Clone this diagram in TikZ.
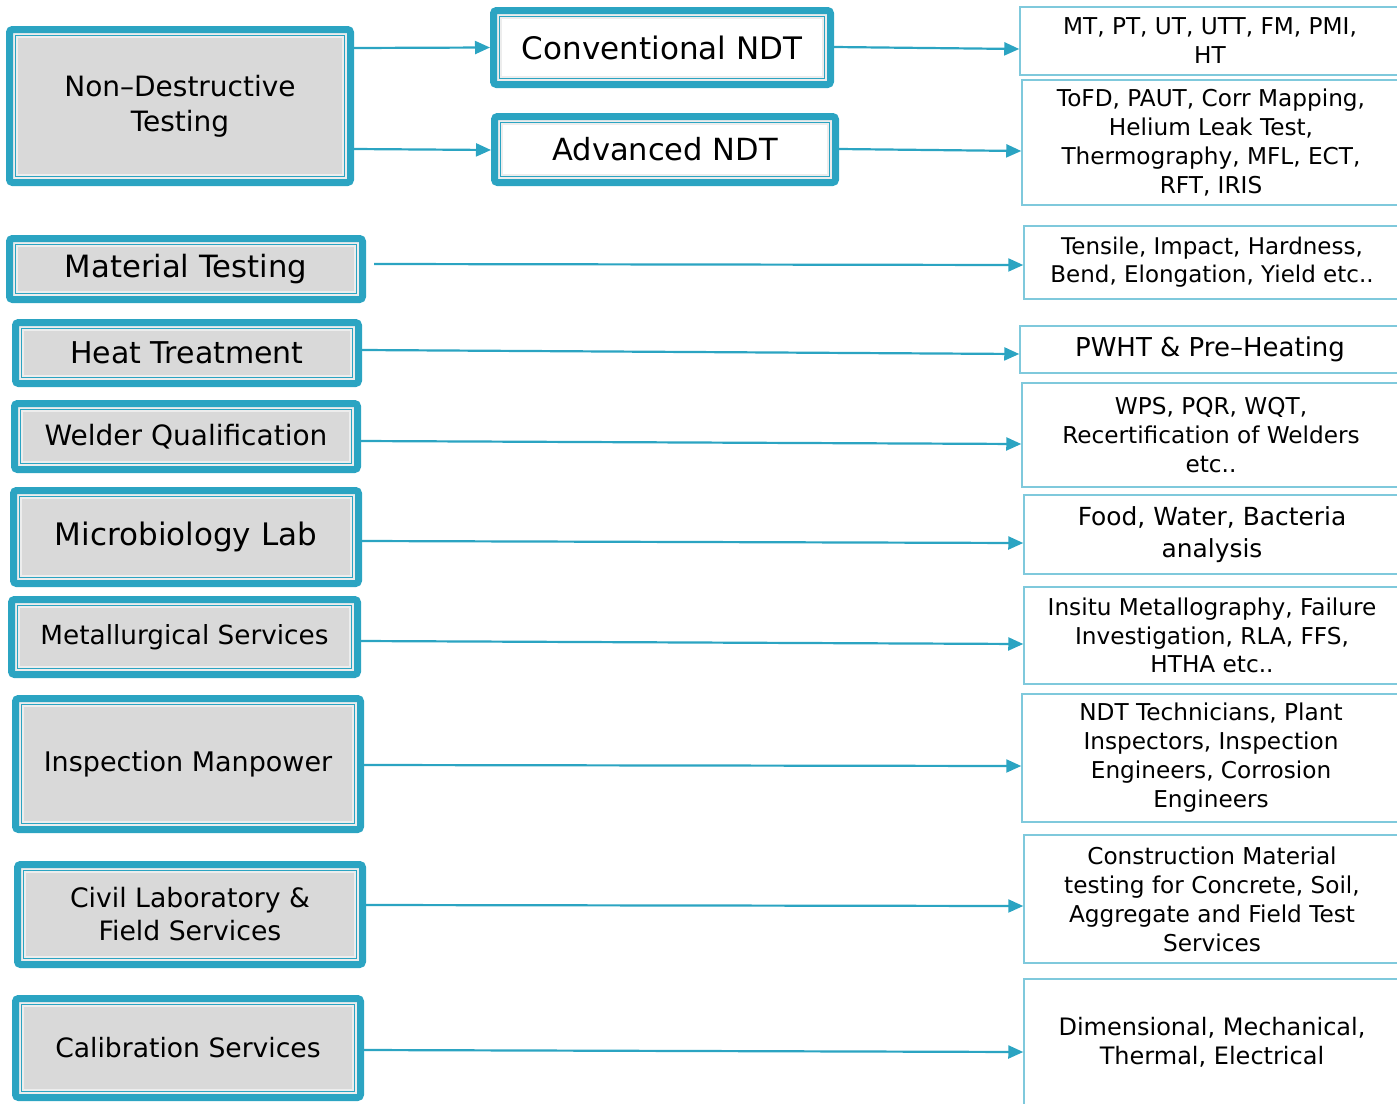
\documentclass[tikz,border=0pt]{standalone}
\usepackage{fontspec}
\setmainfont{DejaVu Sans}
\usepackage{xcolor}
\usepackage{tikz}
\usetikzlibrary{arrows.meta}
\usetikzlibrary{positioning}
\usetikzlibrary{calc}

\definecolor{ndtblue}{HTML}{2BA4C2}
\definecolor{infoblue}{HTML}{7FC9DC}
\definecolor{boxgray}{HTML}{D9D9D9}

\begin{document}
\begin{tikzpicture}
[x=1pt, y=-1pt,
 man/.style={rectangle, rounded corners=3pt, draw=ndtblue, line width=7pt, fill=boxgray, align=center, inner sep=0pt,
   path picture={\draw[sharp corners, draw=white!93!black, line width=1.4pt, double=ndtblue, double distance=1.8pt]
     ([shift={(6pt,6pt)}]path picture bounding box.south west) rectangle ([shift={(-6pt,-6pt)}]path picture bounding box.north east);}},
 man1/.style={man, fill=white},
 info/.style={rectangle, draw=infoblue, line width=1.5pt, fill=white, align=center, inner sep=0pt, font=\fontsize{23.2}{29}\selectfont},
 link/.style={draw=ndtblue, line width=2.2pt, -{Triangle[length=15pt,width=13pt]}}]
\useasboundingbox (0,0) rectangle (1397,1103);

% left column
\node[man, minimum width=341pt, minimum height=153pt, font=\fontsize{28}{35}\selectfont] (ndt) at (180,106) {Non–Destructive\\Testing};
\node[man1, minimum width=337pt, minimum height=74pt, font=\fontsize{31}{37}\selectfont] (conv) at (662,47.5) {Conventional NDT};
\node[man1, minimum width=341pt, minimum height=66pt, font=\fontsize{30.5}{37}\selectfont] (adv) at (665,149.5) {Advanced NDT};
\node[man, minimum width=353pt, minimum height=61pt, font=\fontsize{30.7}{37}\selectfont] (mat) at (186,269) {Material Testing};
\node[man, minimum width=343pt, minimum height=61pt, font=\fontsize{30}{37}\selectfont] (heat) at (187,353) {Heat Treatment};
\node[man, minimum width=343pt, minimum height=66pt, font=\fontsize{28}{35}\selectfont] (weld) at (186,436.5) {Welder Qualification};
\node[man, minimum width=345pt, minimum height=93pt, font=\fontsize{31}{37}\selectfont] (micro) at (186,537) {Microbiology Lab};
\node[man, minimum width=346pt, minimum height=75pt, font=\fontsize{26.3}{33}\selectfont] (metal) at (184.5,637) {Metallurgical Services};
\node[man, minimum width=345pt, minimum height=131pt, font=\fontsize{27}{34}\selectfont] (insp) at (188,764) {Inspection Manpower};
\node[man, minimum width=345pt, minimum height=100pt, font=\fontsize{26.7}{33}\selectfont] (civil) at (190,914.5) {Civil Laboratory \&\\Field Services};
\node[man, minimum width=345pt, minimum height=99pt, font=\fontsize{26.6}{33}\selectfont] (calib) at (188,1048) {Calibration Services};

% right column
\node[info, minimum width=380pt, minimum height=68pt] (convlist) at (1210,41) {MT, PT, UT, UTT, FM, PMI,\\HT};
\node[info, minimum width=378pt, minimum height=125pt] (advlist) at (1211,142.5) {ToFD, PAUT, Corr Mapping,\\Helium Leak Test,\\Thermography, MFL, ECT,\\RFT, IRIS};
\node[info, minimum width=376pt, minimum height=73pt, font=\fontsize{23}{28}\selectfont] (matlist) at (1212,262.5) {Tensile, Impact, Hardness,\\Bend, Elongation, Yield etc..};
\node[info, minimum width=380pt, minimum height=47pt, font=\fontsize{26}{32}\selectfont] (heatlist) at (1210,349.5) {PWHT \& Pre–Heating};
\node[info, minimum width=378pt, minimum height=104pt] (weldlist) at (1211,435) {WPS, PQR, WQT,\\Recertification of Welders\\etc..};
\node[info, minimum width=376pt, minimum height=79pt, font=\fontsize{24.9}{32}\selectfont] (microlist) at (1212,534.5) {Food, Water, Bacteria\\analysis};
\node[info, minimum width=376pt, minimum height=97pt, font=\fontsize{23.2}{28.5}\selectfont] (metallist) at (1212,635.5) {Insitu Metallography, Failure\\Investigation, RLA, FFS,\\HTHA etc..};
\node[info, minimum width=378pt, minimum height=128pt] (insplist) at (1211,758) {NDT Technicians, Plant\\Inspectors, Inspection\\Engineers, Corrosion\\Engineers};
\node[info, minimum width=376pt, minimum height=128pt] (civillist) at (1212,899) {Construction Material\\testing for Concrete, Soil,\\Aggregate and Field Test\\Services};
\node[info, minimum width=376pt, minimum height=126pt, font=\fontsize{24}{29}\selectfont] (caliblist) at (1212,1042) {Dimensional, Mechanical,\\Thermal, Electrical};

% arrows
\draw[link] ($(ndt.east |- conv.west)+(0,0.5)$) -- (conv.west);
\draw[link] ($(ndt.east |- adv.west)+(0,-0.5)$) -- ($(adv.west)+(0,0.5)$);
\draw[link] ($(conv.east)+(0,-0.5)$) -- ($(conv.east -| convlist.west)+(0,1.5)$);
\draw[link] ($(adv.east)+(0,-0.5)$) -- ($(adv.east -| advlist.west)+(0,1.5)$);
\draw[link] ($(mat.east)+(8,-5)$) -- ($(mat.east -| matlist.west)+(0,-4)$);
\draw[link] ($(heat.east)+(0,-3)$) -- ($(heat.east -| heatlist.west)+(0,1)$);
\draw[link] ($(weld.east)+(0,4.5)$) -- ($(weld.east -| weldlist.west)+(0,7.5)$);
\draw[link] ($(micro.east)+(0,4)$) -- ($(micro.east -| microlist.west)+(0,6)$);
\draw[link] ($(metal.east)+(0,4)$) -- ($(metal.east -| metallist.west)+(0,7)$);
\draw[link] ($(insp.east)+(0,1)$) -- ($(insp.east -| insplist.west)+(0,2)$);
\draw[link] ($(civil.east)+(0,-9.5)$) -- ($(civil.east -| civillist.west)+(0,-8.5)$);
\draw[link] ($(calib.east)+(0,2)$) -- ($(calib.east -| caliblist.west)+(0,4)$);
\end{tikzpicture}
\end{document}
